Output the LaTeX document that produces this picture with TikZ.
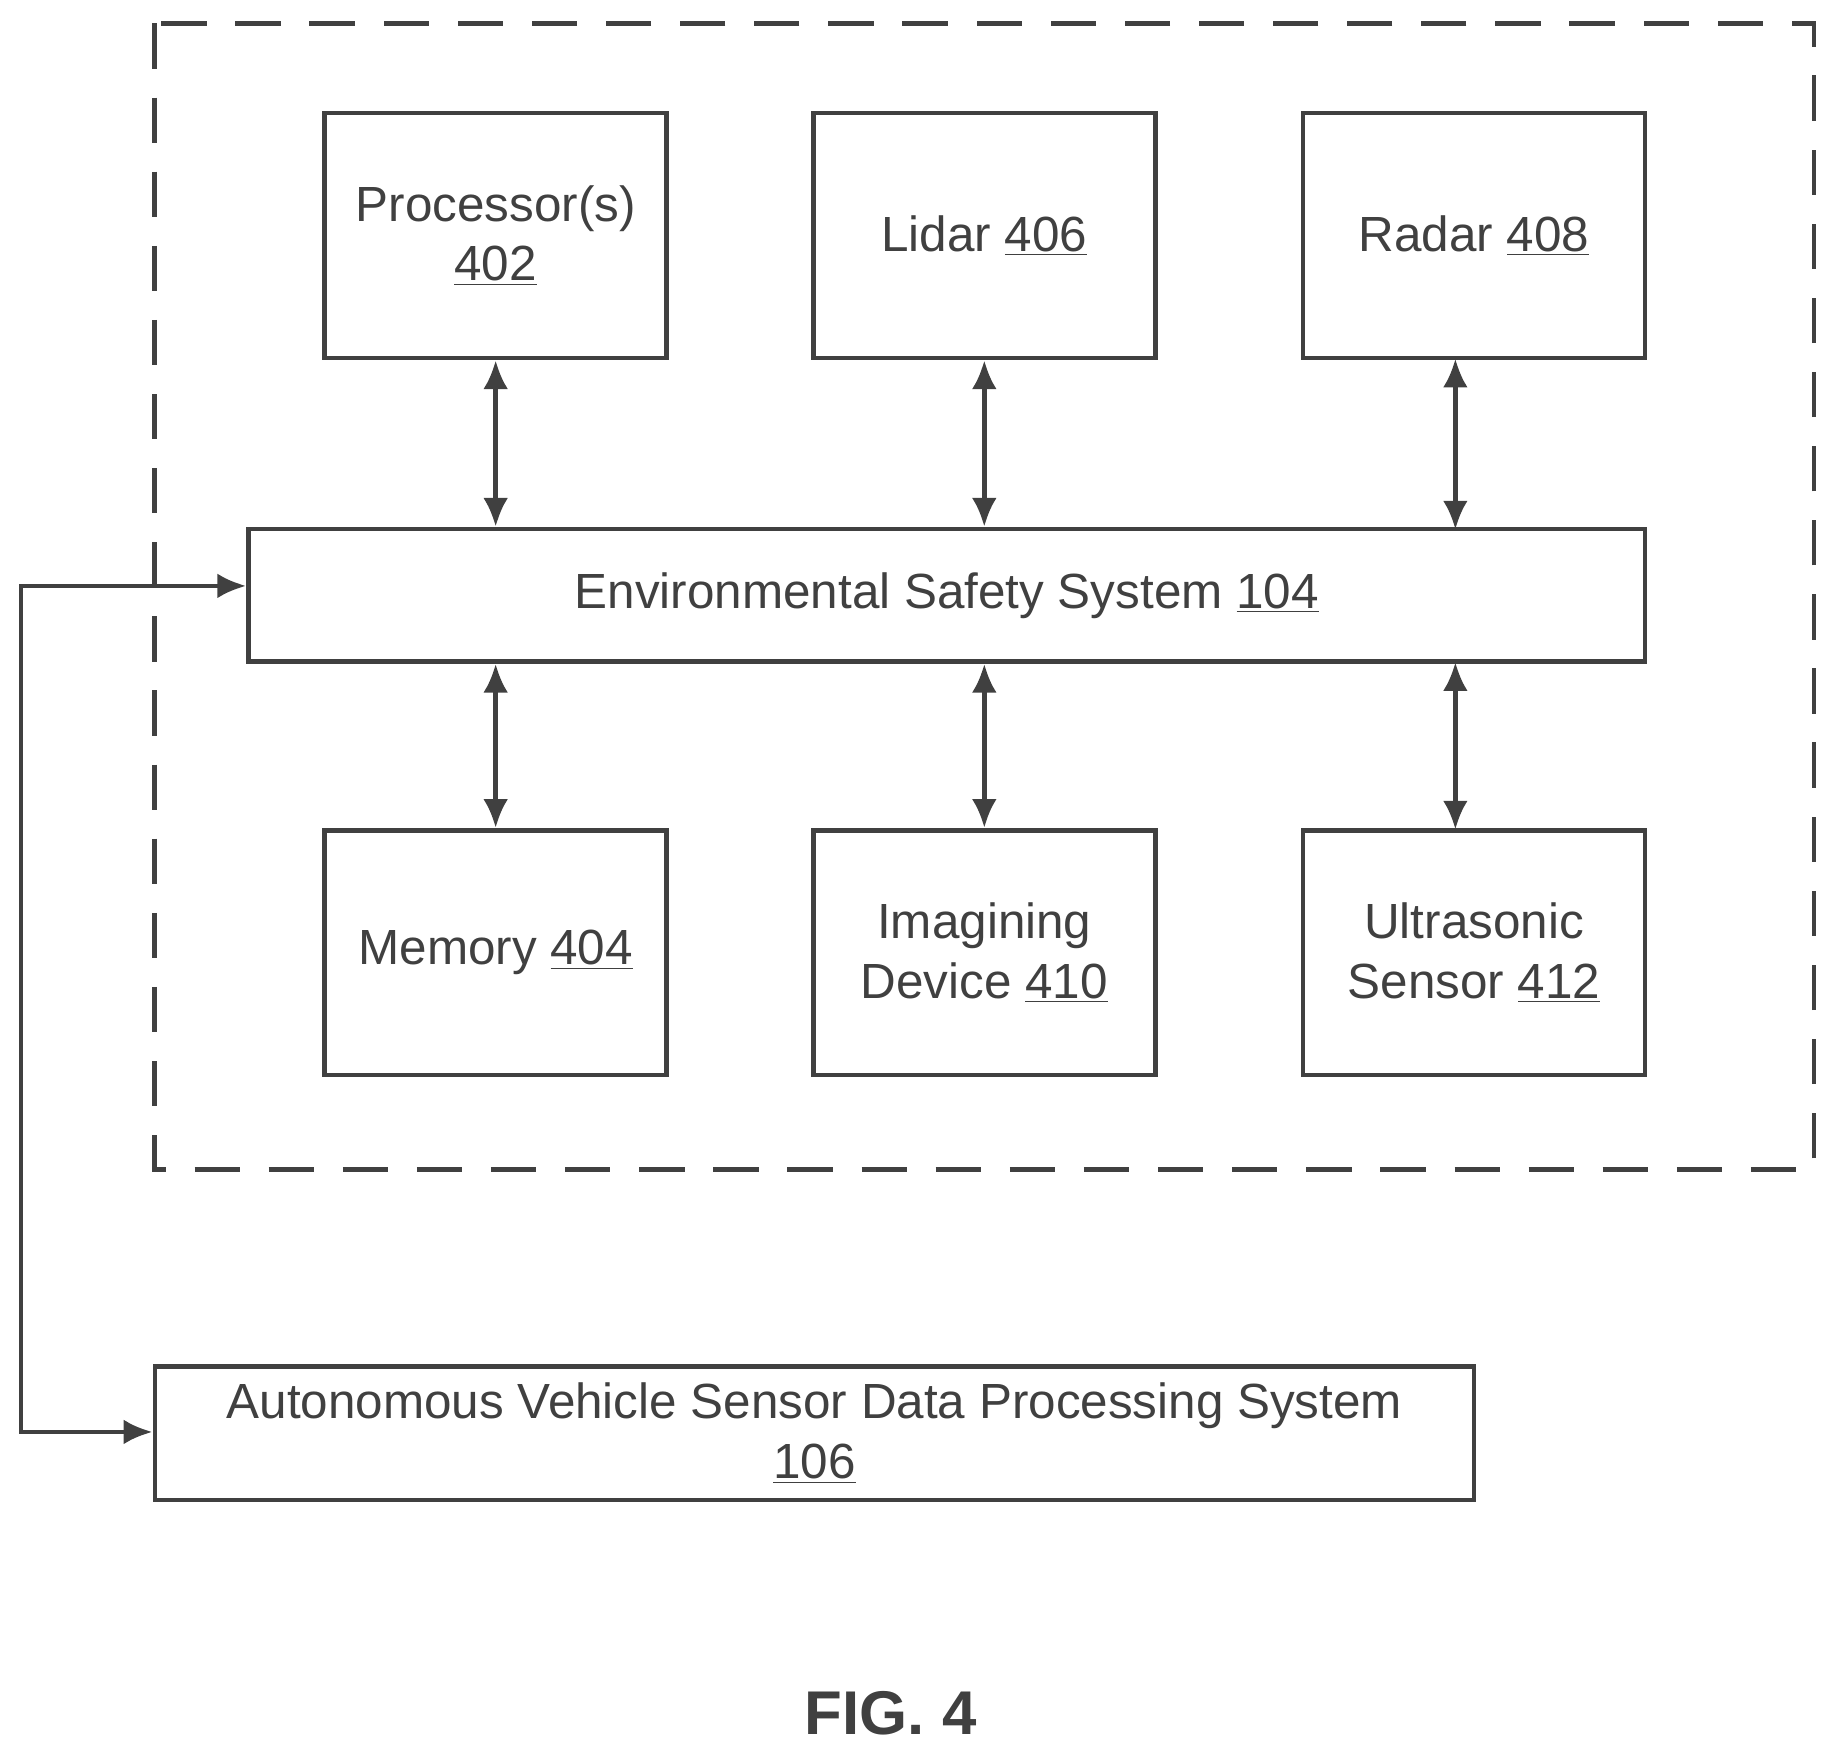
\documentclass[tikz,border=0pt]{standalone}
\usepackage{fontspec}
\setmainfont{Liberation Sans}
\usetikzlibrary{arrows.meta,positioning}
\definecolor{ink}{rgb}{0.25,0.25,0.25}

\begin{document}
\begin{tikzpicture}[x=0.02cm,y=-0.02cm,line width=2.2pt,draw=ink,
    box/.style={rectangle,draw=ink,align=center,font=\fontsize{24}{29}\selectfont,text=ink,inner sep=0pt},
    unit/.style={box,minimum width=5.84cm,minimum height=4.18cm},
    link/.style={{Latex[length=14pt,width=12pt]}-{Latex[length=14pt,width=12pt]},draw=ink}]
  \useasboundingbox (0,0) rectangle (1560,1494);
  %%%%%%%%%%%%%%%%%%%% frame %%%%%%%%%%%%%%%%%%%%
  \draw[ink,dash pattern=on 22pt off 14pt] (132,20) rectangle (1548,998);
  %%%%%%%%%%%%%%%%%%%% units %%%%%%%%%%%%%%%%%%%%
  \node[unit] (p) at (423,201) {Processor(s)\\\underline{402}};
  \node[unit] (l) at (840,201) {Lidar \underline{406}};
  \node[unit] (r) at (1258,201) {Radar \underline{408}};
  \node[box,minimum width=23.84cm,minimum height=2.26cm] (ess) at (808,508) {Environmental Safety System \underline{104}};
  \node[unit] (m) at (423,813) {Memory \underline{404}};
  \node[unit] (i) at (840,813) {Imagining\\Device \underline{410}};
  \node[unit] (u) at (1258,813) {Ultrasonic\\Sensor \underline{412}};
  \node[box,minimum width=22.52cm,minimum height=2.28cm] (av) at (695,1223) {Autonomous Vehicle Sensor Data Processing System\\\underline{106}};
  \node[font=\bfseries\fontsize{30}{36}\selectfont,text=ink] (fig) at (760,1462) {FIG. 4};
  %%%%%%%%%%%%%%%%%%%% links %%%%%%%%%%%%%%%%%%%%
  \draw[link] (p.south) -- (p.south |- ess.north);
  \draw[link] (l.south) -- (l.south |- ess.north);
  \draw[link] (1242,306) -- (1242,452);
  \draw[link] (m.north) -- (m.north |- ess.south);
  \draw[link] (i.north) -- (i.north |- ess.south);
  \draw[link] (1242,708) -- (1242,565);
  \coordinate (c1) at (18,500);
  \coordinate (c2) at (18,1222);
  \draw[link] (ess.west |- c1) -- (c1) -- (c2) -- (av.west |- c2);
\end{tikzpicture}
\end{document}
